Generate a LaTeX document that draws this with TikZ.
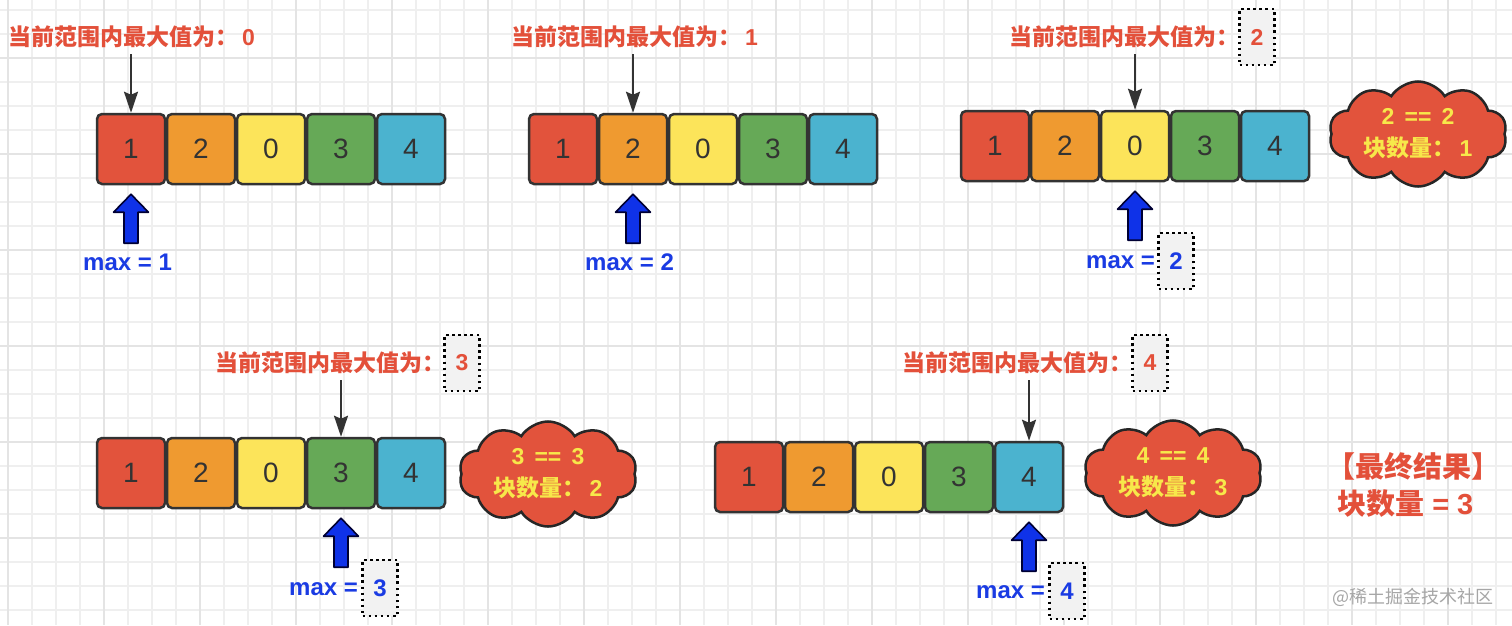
\documentclass[tikz,border=0pt]{standalone}
\usepackage{fontspec}
\setmainfont{Liberation Sans}
\newfontfamily\cjk{Noto Sans CJK SC}
\usetikzlibrary{arrows.meta,shapes.symbols}
\definecolor{cred}{HTML}{E2533C}
\definecolor{corange}{HTML}{EF9A30}
\definecolor{cyellow}{HTML}{FCE45A}
\definecolor{cgreen}{HTML}{66A957}
\definecolor{cblue}{HTML}{4BB3CF}
\definecolor{labred}{HTML}{E3503A}
\definecolor{txtblue}{HTML}{1A3BE3}
\definecolor{arrblue}{HTML}{0F32E8}
\definecolor{cloudtxt}{HTML}{F7E84A}
\definecolor{gridminor}{HTML}{EFEFEF}
\definecolor{gridmajor}{HTML}{E4E4E4}
\definecolor{dark}{HTML}{333333}
\begin{document}
\begin{tikzpicture}[x=1pt,y=-1pt,
  cell/.style={draw=dark,line width=2.5pt,rounded corners=5pt,minimum width=68pt,minimum height=70pt,inner sep=0pt,
    text=dark,font=\fontsize{28}{30}\selectfont},
  lab/.style={anchor=west,inner sep=0pt,text=labred,font=\bfseries\fontsize{23}{26}\selectfont},
  maxl/.style={anchor=west,inner sep=0pt,text=txtblue,font=\bfseries\fontsize{24}{26}\selectfont},
  dotbox/.style={draw=black,line width=2.5pt,dash pattern=on 2.5pt off 3.6pt,fill=black!5,minimum width=35pt,minimum height=56pt,inner sep=0pt},
  blk/.style={draw=dark,line width=2pt,-{Stealth[width=14pt,length=21pt,inset=3pt]},shorten <=6pt},
  barrow/.style={draw=black!80!blue,line width=1.6pt,fill=arrblue,line join=round},
  cloudn/.style={cloud,cloud puffs=10,cloud puff arc=115,aspect=1.85,draw=black!85,line width=2.5pt,fill=cred,
    minimum width=178pt,minimum height=98pt,inner sep=0pt,align=center,text=cloudtxt,
    font=\bfseries\fontsize{23}{32}\selectfont}]
\useasboundingbox (0,0) rectangle (1512,625);
\fill[white] (0,0) rectangle (1512,625);
% grid
\foreach \i in {0,...,62} {\draw[gridminor,line width=1.2pt] (8+24*\i,0) -- (8+24*\i,625);}
\foreach \i in {0,...,25} {\draw[gridminor,line width=1.2pt] (0,10+24*\i) -- (1512,10+24*\i);}
\foreach \i in {0,...,15} {\draw[gridmajor,line width=1.4pt] (8+96*\i,0) -- (8+96*\i,625);}
\foreach \i in {0,...,5} {\draw[gridmajor,line width=1.4pt] (0,58+96*\i) -- (1512,58+96*\i);}
% arrays
\foreach \a/\L/\T in {1/96/113,2/528/113,3/960/110,4/96/437,5/714/441}{
  \foreach \v/\c [count=\j from 0] in {1/cred,2/corange,0/cyellow,3/cgreen,4/cblue}{
    \node[cell,fill=\c] (a\a c\j) at (\L+35+70*\j,\T+36) {\v};
  }
}
% top labels
\node[lab] (lab1) at (8,37) {{\cjk 当前范围内最大值为：}\,0};
\node[lab] (lab2) at (511,37) {{\cjk 当前范围内最大值为：}\,1};
\node[lab] (lab3) at (1009,37) {{\cjk 当前范围内最大值为：}};
\node[dotbox,text=labred,font=\bfseries\fontsize{23}{26}\selectfont] (box3) at (1257,37) {2};
\node[lab] (lab4) at (215,363) {{\cjk 当前范围内最大值为：}};
\node[dotbox,text=labred,font=\bfseries\fontsize{23}{26}\selectfont] (box4) at (462,363) {3};
\node[lab] (lab5) at (902,363) {{\cjk 当前范围内最大值为：}};
\node[dotbox,text=labred,font=\bfseries\fontsize{23}{26}\selectfont] (box5) at (1150,363) {4};
% black arrows
\draw[blk] (lab1.south -| a1c0.north) -- (a1c0.north);
\draw[blk] (lab2.south -| a2c1.north) -- (a2c1.north);
\draw[blk] (lab3.south -| a3c2.north) -- (a3c2.north);
\draw[blk] (lab4.south -| a4c3.north) -- (a4c3.north);
\draw[blk] (lab5.south -| a5c4.north) -- (a5c4.north);
% blue arrows
\foreach \n in {a1c0,a2c1,a3c2,a4c3,a5c4}{
  \begin{scope}[shift={(\n.south)}]
    \draw[barrow] (-7,58) -- (-7,27) -- (-17.5,27) -- (0,9) -- (17.5,27) -- (7,27) -- (7,58) -- cycle;
  \end{scope}
}
% max labels
\node[maxl] (m1) at (83,262) {max = 1};
\node[maxl] (m2) at (585,262) {max = 2};
\node[maxl] (m3) at (1086,262) {max = };
\node[dotbox,text=txtblue,font=\bfseries\fontsize{24}{26}\selectfont] (mb3) at (1176,261) {2};
\node[maxl] (m4) at (289,589) {max = };
\node[dotbox,text=txtblue,font=\bfseries\fontsize{24}{26}\selectfont] (mb4) at (380,588) {3};
\node[maxl] (m5) at (976,592) {max = };
\node[dotbox,text=txtblue,font=\bfseries\fontsize{24}{26}\selectfont] (mb5) at (1067,591) {4};
% clouds
\node[cloudn] (cl1) at (1418,134) {2 \,==\, 2\\{\cjk 块数量：}\,1};
\node[cloudn] (cl2) at (548,474) {3 \,==\, 3\\{\cjk 块数量：}\,2};
\node[cloudn] (cl3) at (1173,473) {4 \,==\, 4\\{\cjk 块数量：}\,3};
% result
\node[anchor=west,inner sep=0pt,text=labred,font=\bfseries\fontsize{29}{32}\selectfont] (res1) at (1326,466) {{\cjk 【最终结果】}};
\node[anchor=west,inner sep=0pt,text=labred,font=\bfseries\fontsize{29}{32}\selectfont] (res2) at (1337,504) {{\cjk 块数量} = 3};
\node[anchor=west,inner sep=0pt,text=black!35,font=\cjk\fontsize{18}{20}\selectfont] (wm) at (1332,597) {@稀土掘金技术社区};
\end{tikzpicture}
\end{document}
